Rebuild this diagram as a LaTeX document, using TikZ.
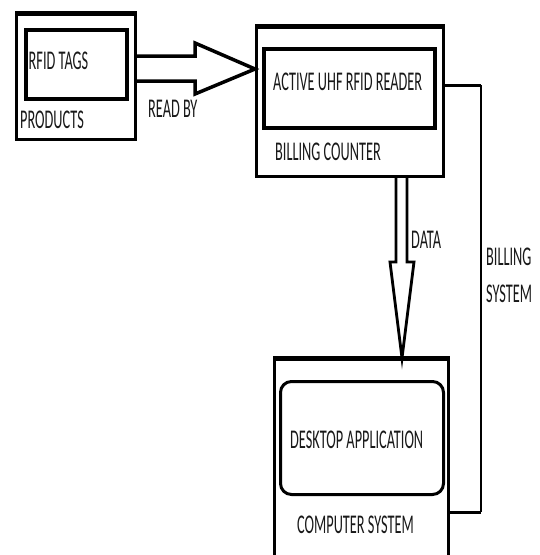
\documentclass[tikz,border=0pt]{standalone}
\usepackage{fontspec}
\setmainfont{Carlito}
\usetikzlibrary{calc}
\newcommand{\lbltext}[1]{\scalebox{0.55}[1.04]{\fontsize{26}{30}\selectfont #1}}
\begin{document}
\begin{tikzpicture}[x=1pt,y=-1pt,
  box/.style={draw=black, line width=3pt, inner sep=0pt, anchor=north west},
  inbox/.style={draw=black, line width=3.5pt, inner sep=0pt, anchor=north west},
  lbl/.style={inner sep=0pt, anchor=base west, text=black!90},
  hollow/.style={draw=black, fill=white, line width=3.5pt, line join=miter},
  wire/.style={draw=black, line width=2.5pt}]
\useasboundingbox (0,0) rectangle (539,555);
\clip (0,0) rectangle (539,555);

% boxes
\node[box, minimum width=119pt, minimum height=125pt] (prod) at (15,13) {};
\node[inbox, minimum width=101pt, minimum height=69pt] (tags) at (24,28) {};
\node[box, minimum width=187pt, minimum height=149pt] (bill) at (255,26) {};
\node[inbox, minimum width=171pt, minimum height=79pt] (reader) at (262,47) {};
\node[box, line width=2.5pt, minimum width=174pt, minimum height=210pt] (comp) at (273,358) {};
\node[inbox, line width=3pt, rounded corners=11pt, minimum width=163pt, minimum height=113pt] (app) at (279,380) {};

% thicker top edges
\draw[line width=4.5pt] (prod.north west) -- (prod.north east);
\draw[line width=4.5pt] (bill.north west) -- (bill.north east);
\draw[line width=3.5pt] (comp.north west) -- (comp.north east);

% read-by arrow
\draw[hollow] (prod.east |- 0,56) -- (195,56) -- (195,43) -- (bill.west |- 0,69)
  -- (195,94) -- (195,81) -- (prod.east |- 0,81);

% data arrow
\draw[hollow, line width=2.8pt] (bill.south -| 396,0) -- (396,262) -- (390,262)
  -- (comp.north -| 402,0) -- (414,262) -- (407,262) -- (bill.south -| 407,0);

% billing system line
\draw[wire, line width=3pt] (bill.east |- 0,85) -- (481,85);
\draw[wire] (481,85) -- (481,512);
\draw[wire, line width=3pt] (481,512) -- (comp.east |- 0,512);

% labels
\node[lbl] (tTags) at (28.5,69) {\lbltext{RFID TAGS}};
\node[lbl] (tProd) at (20,128) {\lbltext{PRODUCTS}};
\node[lbl] (tRead) at (148,117) {\lbltext{READ BY}};
\node[lbl] (tReader) at (273,90) {\lbltext{ACTIVE UHF RFID READER}};
\node[lbl] (tBill) at (275,160) {\lbltext{BILLING COUNTER}};
\node[lbl] (tData) at (411,248) {\lbltext{DATA}};
\node[lbl] (tBS1) at (486,265) {\lbltext{BILLING}};
\node[lbl] (tBS2) at (486,302) {\lbltext{SYSTEM}};
\node[lbl] (tApp) at (290,448) {\lbltext{DESKTOP APPLICATION}};
\node[lbl] (tComp) at (297,533) {\lbltext{COMPUTER SYSTEM}};
\end{tikzpicture}
\end{document}
